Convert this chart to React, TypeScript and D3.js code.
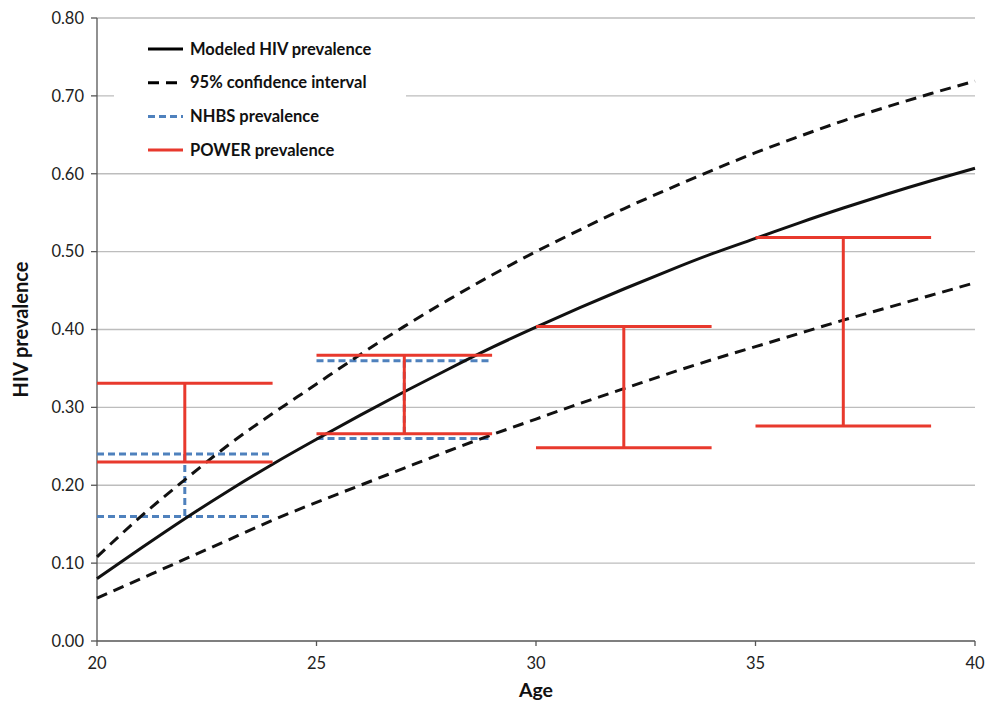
import React from "react";
import * as d3 from "d3";

const ages = [20, 21, 22, 23, 24, 25, 26, 27, 28, 29, 30, 31, 32, 33, 34, 35, 36, 37, 38, 39, 40];
const modeled = [0.08, 0.119, 0.157, 0.193, 0.227, 0.259, 0.29, 0.32, 0.349, 0.377, 0.403, 0.428, 0.452, 0.475, 0.497, 0.517, 0.537, 0.556, 0.574, 0.591, 0.607];
const ciUpper = [0.108, 0.16, 0.207, 0.252, 0.292, 0.33, 0.368, 0.404, 0.438, 0.47, 0.5, 0.528, 0.555, 0.58, 0.604, 0.627, 0.648, 0.668, 0.686, 0.703, 0.719];
const ciLower = [0.055, 0.08, 0.105, 0.13, 0.155, 0.178, 0.2, 0.222, 0.244, 0.265, 0.285, 0.305, 0.324, 0.343, 0.361, 0.378, 0.395, 0.412, 0.428, 0.444, 0.46];

const powerAges = [22, 27, 32, 37];
const powerHigh = [0.331, 0.367, 0.404, 0.518];
const powerLow = [0.23, 0.266, 0.248, 0.276];

const nhbsAges = [22, 27];
const nhbsHigh = [0.24, 0.36];
const nhbsLow = [0.16, 0.26];

const xTicks = [20, 25, 30, 35, 40];
const yTicks = [0, 0.1, 0.2, 0.3, 0.4, 0.5, 0.6, 0.7, 0.8];

const legendItems = [
  { label: "Modeled HIV prevalence", color: "#000", dash: "none", width: 3 },
  { label: "95% confidence interval", color: "#000", dash: "11,7", width: 3 },
  { label: "NHBS prevalence", color: "#4f81bd", dash: "7,4", width: 3 },
  { label: "POWER prevalence", color: "#e8392d", dash: "none", width: 3 },
];

const W = 999;
const H = 701;
const FONT = "Lato, 'Open Sans', sans-serif";

export default function App() {
  const x = d3.scaleLinear().domain([20, 40]).range([97, 975]);
  const y = d3.scaleLinear().domain([0, 0.8]).range([641, 18]);
  const line = d3
    .line<number>()
    .x((_, i) => x(ages[i]))
    .y((d) => y(d))
    .curve(d3.curveNatural);

  const halfWidth = 2;

  return (
    <svg width={W} height={H} style={{ position: "absolute", left: 0, top: 0, background: "#fff" }}>
      {yTicks.slice(1).map((t) => (
        <line key={t} x1={x(20)} x2={x(40)} y1={y(t)} y2={y(t)} stroke="#bdbdbd" strokeWidth={1.3} />
      ))}
      <rect x={114} y={24} width={292} height={146} fill="#fff" />
      <line x1={x(20)} x2={x(20)} y1={y(0.8)} y2={y(0)} stroke="#555" strokeWidth={1.3} />
      <line x1={x(20)} x2={x(40)} y1={y(0)} y2={y(0)} stroke="#555" strokeWidth={1.3} />
      {yTicks.map((t) => (
        <g key={t}>
          <line x1={x(20) - 6} x2={x(20)} y1={y(t)} y2={y(t)} stroke="#555" strokeWidth={1.3} />
          <text x={84} y={y(t)} dy="0.35em" textAnchor="end" fontFamily={FONT} fontSize={16.5} fill="#222">
            {t.toFixed(2)}
          </text>
        </g>
      ))}
      {xTicks.map((t) => (
        <g key={t}>
          <line x1={x(t)} x2={x(t)} y1={y(0)} y2={y(0) + 5} stroke="#555" strokeWidth={1.3} />
          <text x={x(t)} y={669} textAnchor="middle" fontFamily={FONT} fontSize={16.5} fill="#222">
            {t}
          </text>
        </g>
      ))}
      <text x={536} y={697} textAnchor="middle" fontFamily={FONT} fontWeight="bold" fontSize={19.5} fill="#111">
        Age
      </text>
      <text
        transform={`translate(28,${y(0.4)}) rotate(-90)`}
        textAnchor="middle"
        fontFamily={FONT}
        fontWeight="bold"
        fontSize={20}
        fill="#111"
      >
        HIV prevalence
      </text>

      {nhbsAges.map((a, i) => (
        <g key={"n" + a} stroke="#4f81bd" strokeWidth={3} strokeDasharray="7,4" fill="none">
          <line x1={x(a - halfWidth)} x2={x(a + halfWidth)} y1={y(nhbsHigh[i])} y2={y(nhbsHigh[i])} />
          <line x1={x(a - halfWidth)} x2={x(a + halfWidth)} y1={y(nhbsLow[i])} y2={y(nhbsLow[i])} />
          <line x1={x(a)} x2={x(a)} y1={y(nhbsHigh[i])} y2={y(nhbsLow[i])} />
        </g>
      ))}

      <path d={line(ciUpper) || ""} stroke="#111" strokeWidth={3} strokeDasharray="11,7" fill="none" />
      <path d={line(ciLower) || ""} stroke="#111" strokeWidth={3} strokeDasharray="11,7" fill="none" />
      <path d={line(modeled) || ""} stroke="#111" strokeWidth={3} fill="none" />

      {powerAges.map((a, i) => (
        <g key={"p" + a} stroke="#e8392d" strokeWidth={3} fill="none">
          <line x1={x(a - halfWidth)} x2={x(a + halfWidth)} y1={y(powerHigh[i])} y2={y(powerHigh[i])} />
          <line x1={x(a - halfWidth)} x2={x(a + halfWidth)} y1={y(powerLow[i])} y2={y(powerLow[i])} />
          <line x1={x(a)} x2={x(a)} y1={y(powerHigh[i])} y2={y(powerLow[i])} />
        </g>
      ))}

      {legendItems.map((it, i) => {
        const ly = 49 + i * 33.7;
        return (
          <g key={it.label}>
            <line x1={148} x2={183} y1={ly} y2={ly} stroke={it.color} strokeWidth={it.width} strokeDasharray={it.dash} />
            <text x={190} y={ly} dy="0.35em" fontFamily={FONT} fontWeight="bold" fontSize={16.5} fill="#111">
              {it.label}
            </text>
          </g>
        );
      })}
    </svg>
  );
}
